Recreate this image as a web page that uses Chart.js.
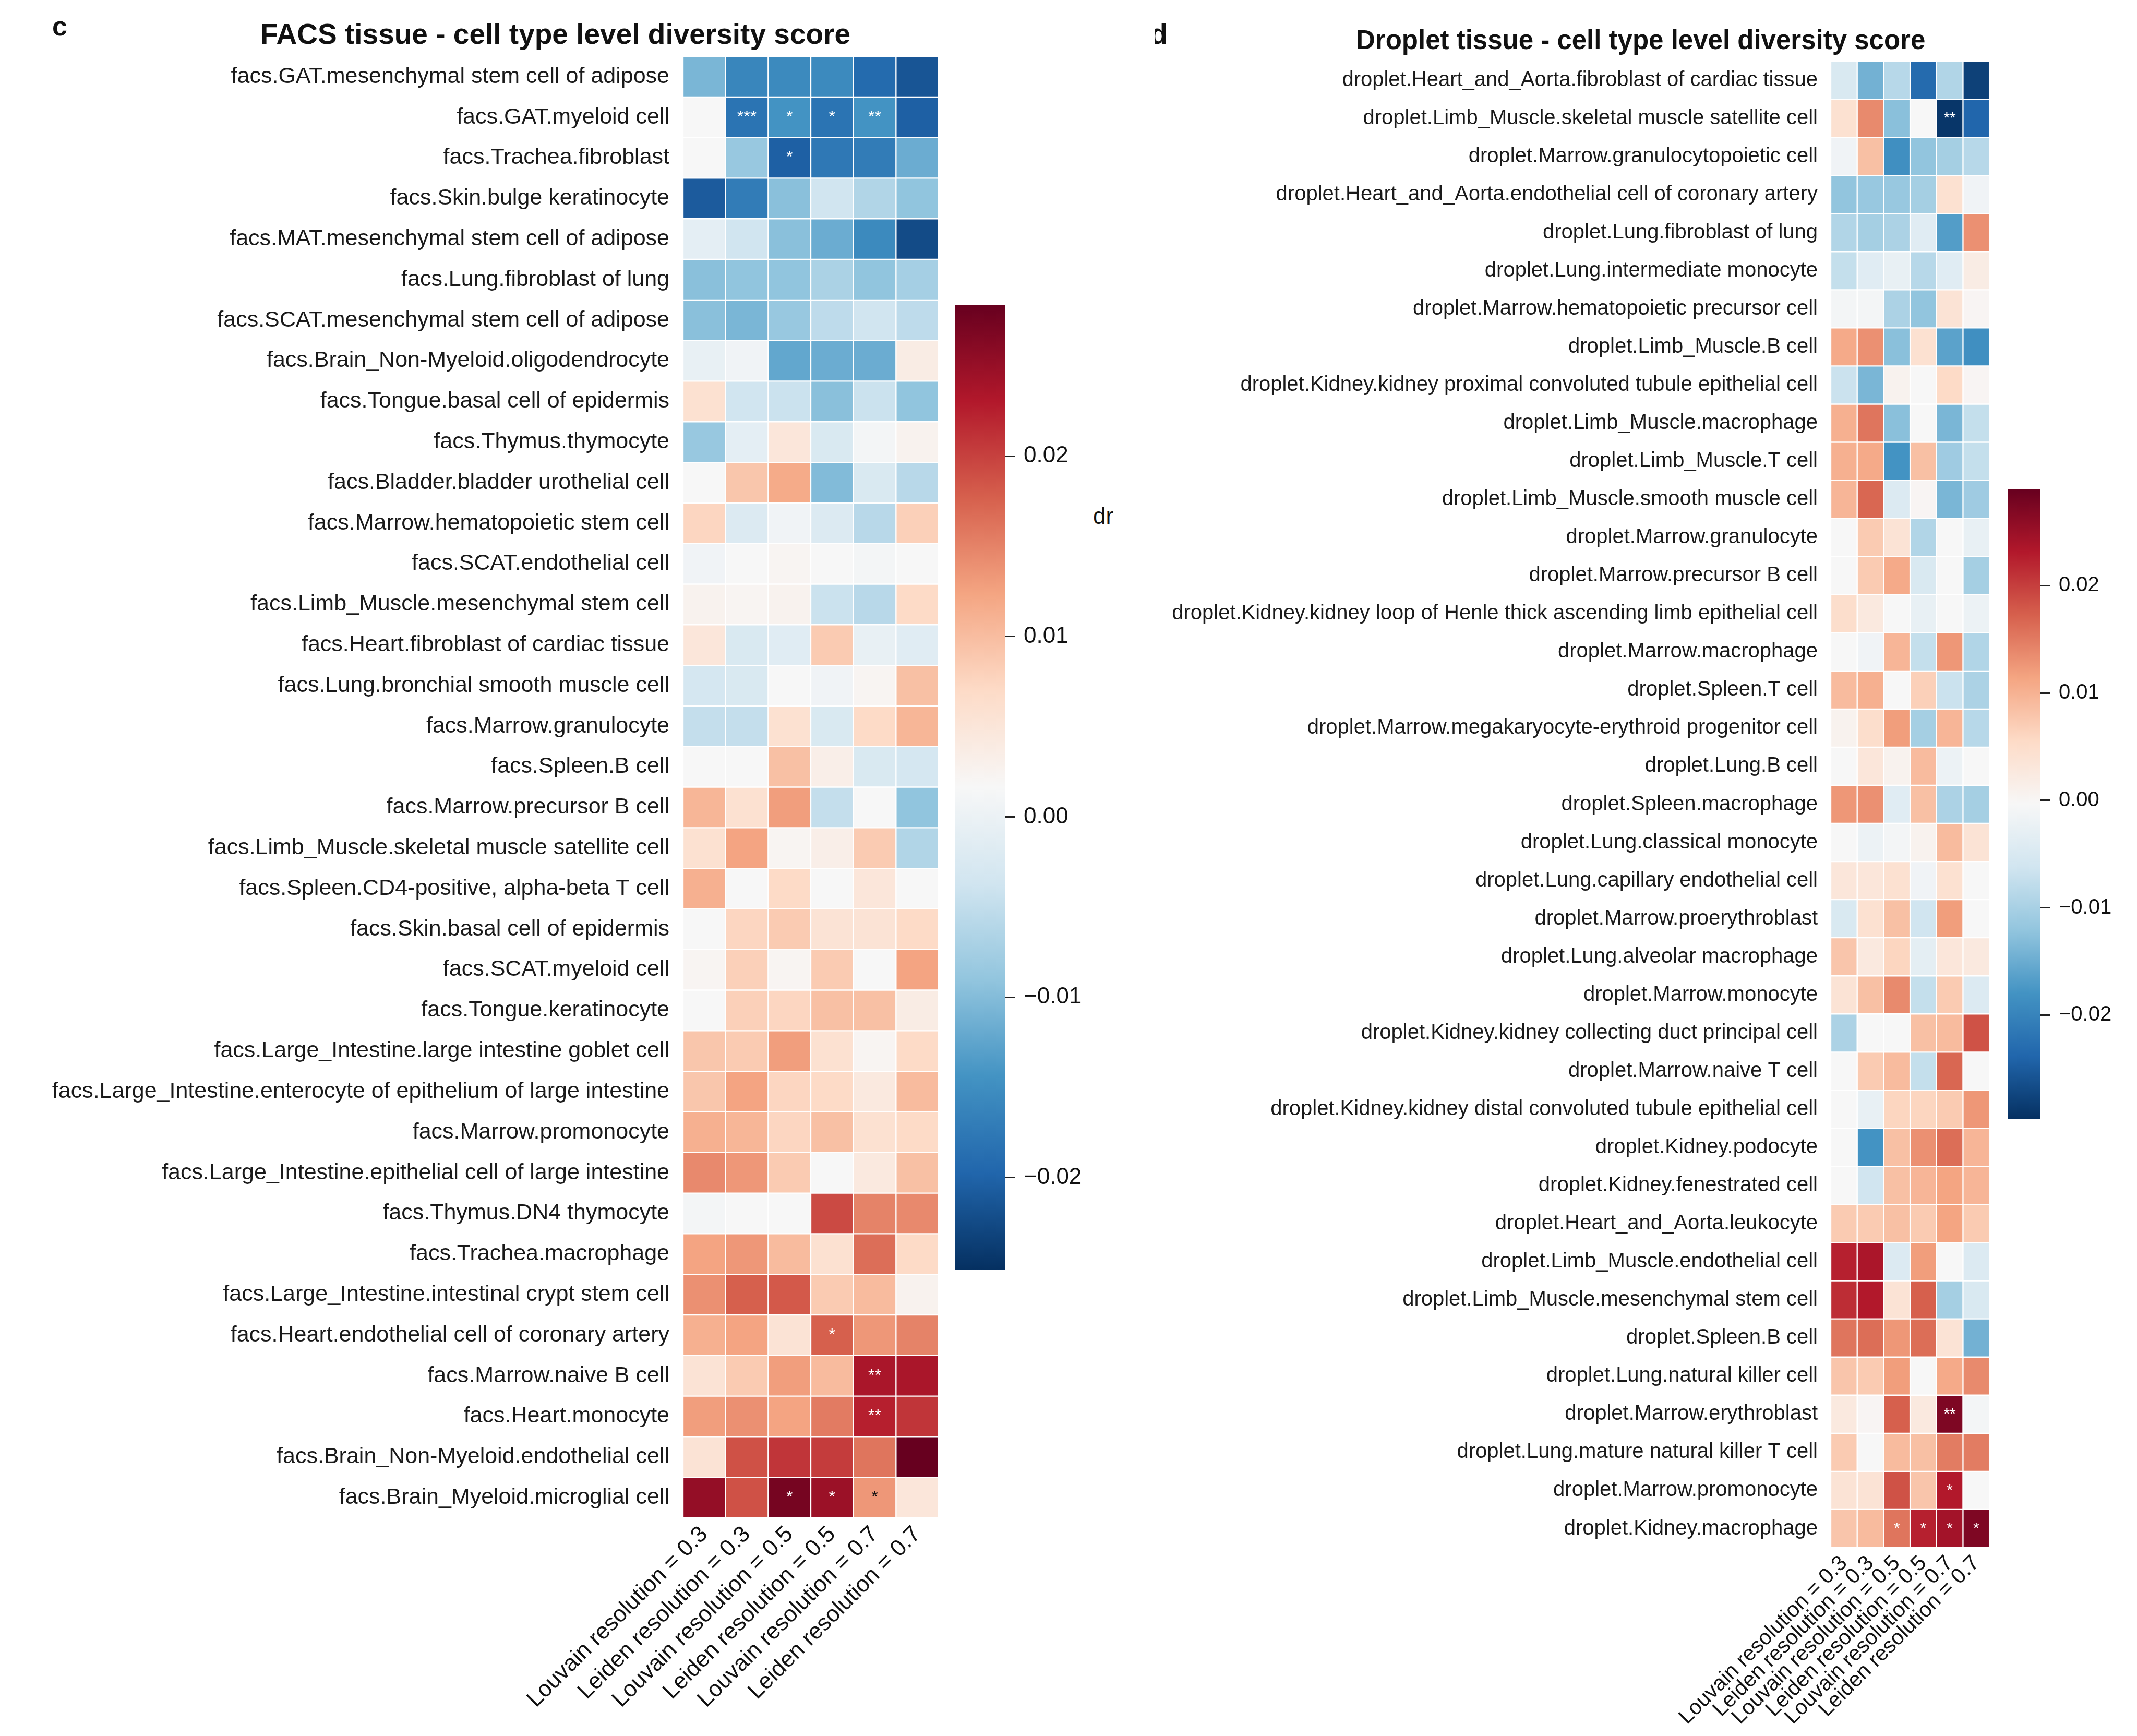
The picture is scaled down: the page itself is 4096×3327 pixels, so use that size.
<!DOCTYPE html>
<html><head><meta charset="utf-8">
<script src="https://cdn.jsdelivr.net/npm/chart.js@4.4.1/dist/chart.umd.min.js"></script>
<style>
html,body{margin:0;padding:0;background:#fff;}
body{width:4096px;height:3327px;position:relative;overflow:hidden;font-family:"Liberation Sans",Arial,sans-serif;color:#111;}
canvas{position:absolute;}
.t{position:absolute;white-space:nowrap;line-height:1;}
</style></head><body>
<div class="t" style="left:100px;top:24px;font-size:52px;font-weight:bold;">c</div>
<div class="t" style="left:499px;top:38px;font-size:55px;font-weight:bold;">FACS tissue - cell type level diversity score</div>
<div style="position:absolute;left:2213px;top:26px;width:40px;height:80px;overflow:hidden;"><div class="t" style="left:-9px;top:11px;font-size:56px;font-weight:bold;">d</div></div>
<div class="t" style="left:2599px;top:51px;font-size:51px;font-weight:bold;">Droplet tissue - cell type level diversity score</div>
<div class="t" style="left:2095px;top:967px;font-size:44px;">dr</div>
<canvas id="facsMap" width="1830" height="3327" style="left:0;top:0;"></canvas>
<canvas id="facsBar" width="300" height="1900" style="left:1800px;top:560px;"></canvas>
<canvas id="dropMap" width="1680" height="3327" style="left:2150px;top:0;"></canvas>
<canvas id="dropBar" width="266" height="1280" style="left:3830px;top:900px;"></canvas>
<script>
const resolutionLabels = ['Louvain resolution = 0.3','Leiden resolution = 0.3','Louvain resolution = 0.5','Leiden resolution = 0.5','Louvain resolution = 0.7','Leiden resolution = 0.7'];

const facsRows = [
'facs.GAT.mesenchymal stem cell of adipose','facs.GAT.myeloid cell','facs.Trachea.fibroblast','facs.Skin.bulge keratinocyte',
'facs.MAT.mesenchymal stem cell of adipose','facs.Lung.fibroblast of lung','facs.SCAT.mesenchymal stem cell of adipose',
'facs.Brain_Non-Myeloid.oligodendrocyte','facs.Tongue.basal cell of epidermis','facs.Thymus.thymocyte',
'facs.Bladder.bladder urothelial cell','facs.Marrow.hematopoietic stem cell','facs.SCAT.endothelial cell',
'facs.Limb_Muscle.mesenchymal stem cell','facs.Heart.fibroblast of cardiac tissue','facs.Lung.bronchial smooth muscle cell',
'facs.Marrow.granulocyte','facs.Spleen.B cell','facs.Marrow.precursor B cell','facs.Limb_Muscle.skeletal muscle satellite cell',
'facs.Spleen.CD4-positive, alpha-beta T cell','facs.Skin.basal cell of epidermis','facs.SCAT.myeloid cell','facs.Tongue.keratinocyte',
'facs.Large_Intestine.large intestine goblet cell','facs.Large_Intestine.enterocyte of epithelium of large intestine',
'facs.Marrow.promonocyte','facs.Large_Intestine.epithelial cell of large intestine','facs.Thymus.DN4 thymocyte',
'facs.Trachea.macrophage','facs.Large_Intestine.intestinal crypt stem cell','facs.Heart.endothelial cell of coronary artery',
'facs.Marrow.naive B cell','facs.Heart.monocyte','facs.Brain_Non-Myeloid.endothelial cell','facs.Brain_Myeloid.microglial cell'];

const facsValues = [
[-0.0107,-0.0160,-0.0155,-0.0155,-0.0192,-0.0214],
[0.0017,-0.0181,-0.0144,-0.0181,-0.0144,-0.0203],
[0.0017,-0.0085,-0.0203,-0.0176,-0.0171,-0.0117],
[-0.0208,-0.0171,-0.0096,-0.0037,-0.0064,-0.0091],
[-0.0010,-0.0037,-0.0096,-0.0117,-0.0155,-0.0224],
[-0.0096,-0.0091,-0.0091,-0.0069,-0.0091,-0.0074],
[-0.0096,-0.0107,-0.0085,-0.0053,-0.0037,-0.0053],
[-0.0005,0.0006,-0.0123,-0.0117,-0.0117,0.0038],
[0.0059,-0.0037,-0.0042,-0.0096,-0.0042,-0.0091],
[-0.0085,-0.0010,0.0049,-0.0026,0.0011,0.0027],
[0.0017,0.0091,0.0118,-0.0101,-0.0026,-0.0058],
[0.0075,-0.0021,0.0006,-0.0021,-0.0058,0.0081],
[0.0006,0.0017,0.0022,0.0017,0.0011,0.0017],
[0.0027,0.0022,0.0027,-0.0042,-0.0058,0.0070],
[0.0049,-0.0026,-0.0016,0.0086,-0.0005,-0.0016],
[-0.0032,-0.0026,0.0017,0.0006,0.0022,0.0097],
[-0.0048,-0.0048,0.0059,-0.0026,0.0070,0.0107],
[0.0017,0.0017,0.0097,0.0033,-0.0026,-0.0032],
[0.0107,0.0059,0.0129,-0.0048,0.0017,-0.0091],
[0.0059,0.0124,0.0022,0.0033,0.0086,-0.0064],
[0.0113,0.0017,0.0070,0.0017,0.0049,0.0017],
[0.0017,0.0075,0.0086,0.0054,0.0054,0.0070],
[0.0022,0.0081,0.0022,0.0086,0.0017,0.0124],
[0.0017,0.0081,0.0075,0.0097,0.0097,0.0038],
[0.0091,0.0086,0.0129,0.0059,0.0022,0.0070],
[0.0091,0.0124,0.0075,0.0070,0.0043,0.0102],
[0.0113,0.0107,0.0075,0.0097,0.0059,0.0070],
[0.0145,0.0134,0.0086,0.0017,0.0043,0.0097],
[0.0011,0.0017,0.0017,0.0193,0.0150,0.0145],
[0.0124,0.0134,0.0102,0.0059,0.0166,0.0070],
[0.0140,0.0177,0.0182,0.0086,0.0102,0.0027],
[0.0113,0.0124,0.0054,0.0177,0.0134,0.0150],
[0.0054,0.0086,0.0129,0.0102,0.0236,0.0236],
[0.0129,0.0140,0.0124,0.0156,0.0225,0.0209],
[0.0054,0.0188,0.0209,0.0204,0.0161,0.0284],
[0.0252,0.0188,0.0273,0.0247,0.0134,0.0049]];

const facsStars = [[1,1,'***'],[1,2,'*'],[1,3,'*'],[1,4,'**'],[2,2,'*'],[31,3,'*'],[32,4,'**'],[33,4,'**'],[35,2,'*'],[35,3,'*'],[35,4,'*']];
const facsRange = [-0.0251, 0.0284];

const dropletRows = [
'droplet.Heart_and_Aorta.fibroblast of cardiac tissue','droplet.Limb_Muscle.skeletal muscle satellite cell',
'droplet.Marrow.granulocytopoietic cell','droplet.Heart_and_Aorta.endothelial cell of coronary artery',
'droplet.Lung.fibroblast of lung','droplet.Lung.intermediate monocyte','droplet.Marrow.hematopoietic precursor cell',
'droplet.Limb_Muscle.B cell','droplet.Kidney.kidney proximal convoluted tubule epithelial cell','droplet.Limb_Muscle.macrophage',
'droplet.Limb_Muscle.T cell','droplet.Limb_Muscle.smooth muscle cell','droplet.Marrow.granulocyte','droplet.Marrow.precursor B cell',
'droplet.Kidney.kidney loop of Henle thick ascending limb epithelial cell','droplet.Marrow.macrophage','droplet.Spleen.T cell',
'droplet.Marrow.megakaryocyte-erythroid progenitor cell','droplet.Lung.B cell','droplet.Spleen.macrophage',
'droplet.Lung.classical monocyte','droplet.Lung.capillary endothelial cell','droplet.Marrow.proerythroblast',
'droplet.Lung.alveolar macrophage','droplet.Marrow.monocyte','droplet.Kidney.kidney collecting duct principal cell',
'droplet.Marrow.naive T cell','droplet.Kidney.kidney distal convoluted tubule epithelial cell','droplet.Kidney.podocyte',
'droplet.Kidney.fenestrated cell','droplet.Heart_and_Aorta.leukocyte','droplet.Limb_Muscle.endothelial cell',
'droplet.Limb_Muscle.mesenchymal stem cell','droplet.Spleen.B cell','droplet.Lung.natural killer cell',
'droplet.Marrow.erythroblast','droplet.Lung.mature natural killer T cell','droplet.Marrow.promonocyte','droplet.Kidney.macrophage'];

const dropletValues = [
[-0.0050,-0.0144,-0.0086,-0.0232,-0.0092,-0.0279],
[0.0043,0.0137,-0.0127,-0.0004,-0.0291,-0.0238],
[-0.0015,0.0085,-0.0185,-0.0121,-0.0103,-0.0086],
[-0.0121,-0.0115,-0.0115,-0.0103,0.0043,-0.0015],
[-0.0092,-0.0103,-0.0097,-0.0039,-0.0168,0.0132],
[-0.0074,-0.0039,-0.0027,-0.0086,-0.0039,0.0020],
[-0.0009,-0.0009,-0.0097,-0.0121,0.0038,0.0002],
[0.0108,0.0132,-0.0127,0.0043,-0.0162,-0.0185],
[-0.0068,-0.0139,0.0008,-0.0004,0.0055,0.0002],
[0.0102,0.0155,-0.0127,-0.0004,-0.0139,-0.0074],
[0.0102,0.0108,-0.0180,0.0085,-0.0109,-0.0074],
[0.0096,0.0167,-0.0045,0.0002,-0.0139,-0.0109],
[-0.0004,0.0073,0.0038,-0.0092,-0.0004,-0.0027],
[-0.0004,0.0073,0.0108,-0.0050,-0.0004,-0.0103],
[0.0049,0.0026,-0.0004,-0.0027,-0.0004,-0.0021],
[-0.0004,-0.0015,0.0096,-0.0074,0.0126,-0.0092],
[0.0090,0.0102,-0.0004,0.0067,-0.0068,-0.0097],
[0.0008,0.0049,0.0120,-0.0103,0.0096,-0.0086],
[-0.0004,0.0032,0.0008,0.0090,-0.0021,-0.0004],
[0.0126,0.0132,-0.0039,0.0085,-0.0097,-0.0103],
[-0.0004,-0.0021,-0.0009,0.0008,0.0090,0.0038],
[0.0032,0.0032,0.0043,-0.0015,0.0043,-0.0004],
[-0.0050,0.0043,0.0085,-0.0062,0.0120,-0.0004],
[0.0079,0.0026,0.0061,-0.0033,0.0032,0.0026],
[0.0038,0.0085,0.0137,-0.0074,0.0073,-0.0045],
[-0.0097,-0.0004,-0.0004,0.0085,0.0090,0.0184],
[-0.0004,0.0073,0.0090,-0.0074,0.0167,-0.0004],
[-0.0004,-0.0027,0.0061,0.0061,0.0073,0.0126],
[-0.0004,-0.0180,0.0085,0.0132,0.0161,0.0096],
[-0.0004,-0.0062,0.0085,0.0096,0.0114,0.0096],
[0.0073,0.0073,0.0085,0.0073,0.0114,0.0073],
[0.0225,0.0237,-0.0045,0.0120,-0.0004,-0.0045],
[0.0214,0.0231,0.0038,0.0173,-0.0103,-0.0050],
[0.0155,0.0161,0.0126,0.0161,0.0038,-0.0144],
[0.0079,0.0073,0.0120,-0.0004,0.0108,0.0137],
[0.0026,0.0002,0.0173,0.0026,0.0272,-0.0009],
[0.0073,-0.0004,0.0090,0.0085,0.0149,0.0149],
[0.0038,0.0038,0.0184,0.0079,0.0231,-0.0004],
[0.0079,0.0090,0.0155,0.0225,0.0243,0.0272]];

const dropletStars = [[1,4,'**'],[35,4,'**'],[37,4,'*'],[38,2,'*'],[38,3,'*'],[38,4,'*'],[38,5,'*']];
const dropletRange = [-0.0297, 0.0290];

const colorbarTicks = [-0.02, -0.01, 0, 0.01, 0.02];

// RdBu_r colormap anchors
const RDBU_R = ['#053061','#2166ac','#4393c3','#92c5de','#d1e5f0','#f7f7f7','#fddbc7','#f4a582','#d6604d','#b2182b','#67001f'];
function hexRgb(h){return [parseInt(h.slice(1,3),16),parseInt(h.slice(3,5),16),parseInt(h.slice(5,7),16)];}
const ANCH = RDBU_R.map(hexRgb);
function cmapRgb(t){
  t = Math.max(0, Math.min(1, t));
  const s = t * 10, i = Math.min(9, Math.floor(s)), f = s - i;
  const a = ANCH[i], b = ANCH[i+1];
  return [0,1,2].map(k => Math.round(a[k] + (b[k]-a[k]) * f));
}
function colorOf(v, range){ const c = cmapRgb((v - range[0]) / (range[1] - range[0])); return 'rgb(' + c.join(',') + ')'; }
function lum(v, range){
  const c = cmapRgb((v - range[0]) / (range[1] - range[0])).map(x => { x/=255; return x <= 0.03928 ? x/12.92 : Math.pow((x+0.055)/1.055, 2.4); });
  return 0.2126*c[0] + 0.7152*c[1] + 0.0722*c[2];
}

Chart.defaults.font.family = '"Liberation Sans", Arial, sans-serif';
Chart.defaults.color = '#111';

function heatmap(id, rows, values, stars, range, g){
  const starPlugin = {
    id: 'stars',
    afterDatasetsDraw(chart){
      const ctx = chart.ctx, xs = chart.scales.x, ys = chart.scales.y;
      ctx.save();
      ctx.font = g.starFont + 'px "Liberation Sans", Arial, sans-serif';
      ctx.textAlign = 'center'; ctx.textBaseline = 'middle';
      stars.forEach(([r, c, txt]) => {
        const v = values[r][c];
        ctx.fillStyle = lum(v, range) > 0.408 ? '#111' : '#ffffff';
        ctx.fillText(txt, xs.getPixelForValue(c + 0.5), ys.getPixelForValue(r) + g.starDy);
      });
      ctx.restore();
    }
  };
  return new Chart(document.getElementById(id), {
    type: 'bar',
    data: {
      labels: rows,
      datasets: resolutionLabels.map((name, j) => ({
        label: name,
        data: rows.map(() => 1),
        backgroundColor: values.map(row => colorOf(row[j], range)),
        borderColor: '#ffffff',
        borderWidth: 1.5,
        borderSkipped: false,
        barPercentage: 1,
        categoryPercentage: 1,
        xAxisID: 'x', yAxisID: 'y'
      }))
    },
    options: {
      indexAxis: 'y',
      responsive: false, animation: false, devicePixelRatio: 1,
      layout: { padding: { top: g.padTop, right: g.padRight, left: 0, bottom: 0 } },
      plugins: { legend: { display: false }, tooltip: { enabled: false } },
      scales: {
        x: { type: 'linear', stacked: true, min: 0, max: 6, display: false },
        xl: {
          type: 'category', position: 'bottom', labels: resolutionLabels, offset: true,
          grid: { display: false, drawTicks: false }, border: { display: false },
          ticks: { autoSkip: false, maxRotation: 45, minRotation: 45, padding: g.xPad, color: '#111', font: { size: g.xFont } },
          afterFit: s => { s.height = g.axisHeight; }
        },
        y: {
          type: 'category', stacked: true, offset: true,
          grid: { display: false, drawTicks: false }, border: { display: false },
          ticks: { autoSkip: false, padding: g.yPad, color: '#1a1a1a', font: { size: g.yFont } },
          afterFit: s => { s.width = g.axisWidth; }
        }
      }
    },
    plugins: [starPlugin]
  });
}

function colorbar(id, range, g){
  const fmt = v => Math.abs(v) < 1e-9 ? '0.00' : (v < 0 ? '\u2212' : '') + Math.abs(v).toFixed(2);
  return new Chart(document.getElementById(id), {
    type: 'bar',
    data: {
      labels: [''],
      datasets: [{
        data: [range],
        backgroundColor: ctx => {
          const a = ctx.chart.chartArea;
          if (!a) return '#f7f7f7';
          const grad = ctx.chart.ctx.createLinearGradient(0, a.bottom, 0, a.top);
          RDBU_R.forEach((c, i) => grad.addColorStop(i / 10, c));
          return grad;
        },
        borderWidth: 0, barPercentage: 1, categoryPercentage: 1
      }]
    },
    options: {
      responsive: false, animation: false, devicePixelRatio: 1,
      layout: { padding: { top: g.padTop, bottom: g.padBottom, left: g.padLeft, right: 0 } },
      plugins: { legend: { display: false }, tooltip: { enabled: false } },
      scales: {
        x: { display: false },
        y: {
          position: 'right', min: range[0], max: range[1],
          afterBuildTicks: s => { s.ticks = colorbarTicks.map(v => ({ value: v })); },
          grid: { display: true, drawOnChartArea: false, drawTicks: true, tickLength: 20, color: '#222', lineWidth: 3 },
          border: { display: false },
          ticks: { callback: v => fmt(v), padding: 16, color: '#111', font: { size: g.font } },
          afterFit: s => { s.width = g.axisWidth; s.paddingTop = 0; s.paddingBottom = 0; }
        }
      }
    }
  });
}

heatmap('facsMap', facsRows, facsValues, facsStars, facsRange,
  { padTop: 108, padRight: 31, axisWidth: 1309, axisHeight: 418, yPad: 26, xPad: 6, yFont: 43, xFont: 44, starFont: 32, starDy: 0 });
heatmap('dropMap', dropletRows, dropletValues, dropletStars, dropletRange,
  { padTop: 117, padRight: 1, axisWidth: 1359, axisHeight: 361, yPad: 25, xPad: 6, yFont: 40, xFont: 41, starFont: 30, starDy: 0 });
colorbar('facsBar', facsRange, { padTop: 24, padBottom: 27, padLeft: 31, axisWidth: 174, font: 44 });
colorbar('dropBar', dropletRange, { padTop: 37, padBottom: 35, padLeft: 19, axisWidth: 186, font: 40 });
</script>
</body></html>
